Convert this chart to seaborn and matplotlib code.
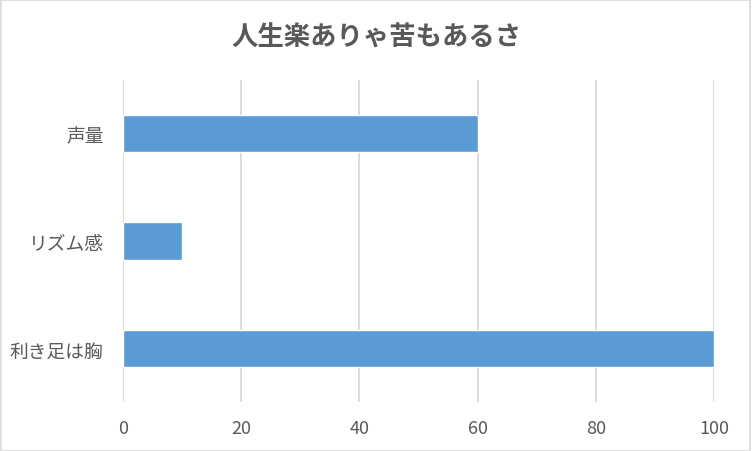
import matplotlib
matplotlib.use("Agg")
import matplotlib.pyplot as plt
import seaborn as sns
import pandas as pd
from matplotlib.patches import Rectangle

categories = ["声量", "リズム感", "利き足は胸"]
values = [60, 10, 100]
x_ticks = [0, 20, 40, 60, 80, 100]
title = "人生楽ありゃ苦もあるさ"

sns.set_style("white")
plt.rcParams['font.family'] = ['Noto Sans CJK JP', 'DejaVu Sans']

df = pd.DataFrame({"cat": categories, "val": values})

fig = plt.figure(figsize=(7.52, 4.52), dpi=100)
ax = fig.add_axes([123/752, 1-403/452, (714-123)/752, (403-81)/452])

sns.barplot(data=df, x="val", y="cat", orient="h", color="#5B9BD5",
            saturation=1, width=0.35, ax=ax, zorder=3)

ax.set_xlim(0, 100)
ax.set_xticks(x_ticks)
ax.set_xticklabels([str(t) for t in x_ticks])
ax.grid(axis="x", color="#D9D9D9", linewidth=1.3, zorder=0)
ax.set_axisbelow(True)
for s in ax.spines.values():
    s.set_visible(False)
ax.set_xlabel("")
ax.set_ylabel("")
ax.tick_params(axis="y", length=0, labelsize=13.5, colors="#595959", pad=14)
ax.tick_params(axis="x", length=0, labelsize=13, colors="#595959", pad=12)

fig.text(0.5, 1-38/452, title, ha="center", va="center", fontsize=19,
         fontweight="bold", color="#595959")

fig.patches.append(Rectangle((0.001, 0.001), 0.997, 0.997, transform=fig.transFigure,
                             fill=False, edgecolor="#D9D9D9", linewidth=1.2))

fig.savefig("out.png", dpi=100, facecolor="white")
